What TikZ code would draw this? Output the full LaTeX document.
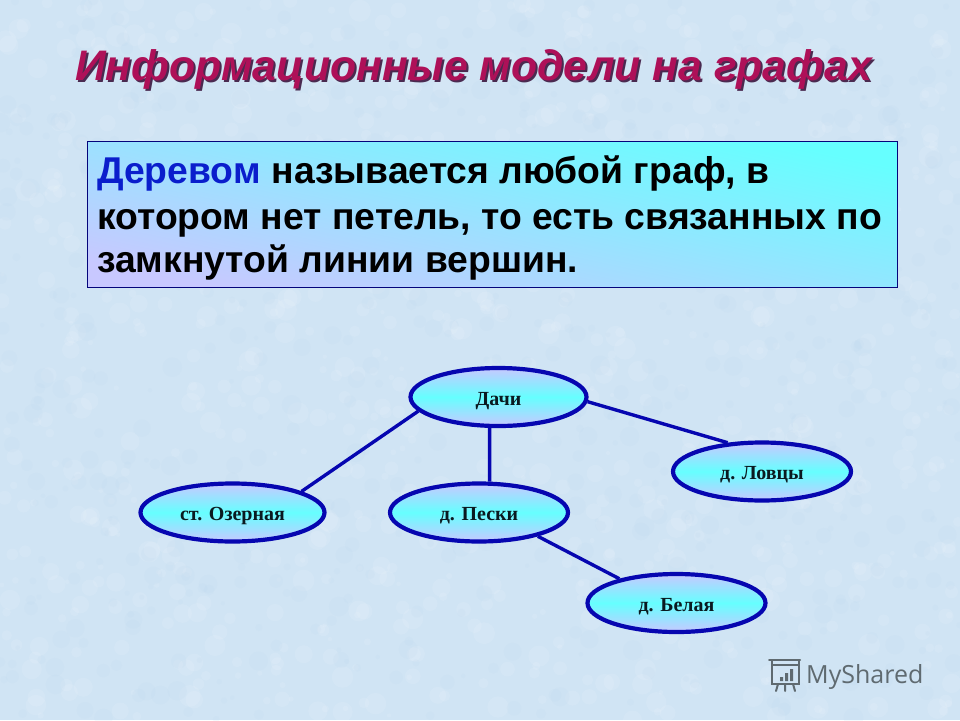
\documentclass[tikz,border=0pt]{standalone}
\usepackage{fontspec}
\setmainfont{Liberation Sans}
\newfontfamily\serifcyr{Liberation Serif}
\newfontfamily\markfont{Open Sans}
\usetikzlibrary{shapes.geometric}
\definecolor{bgblue}{HTML}{D0E4F4}
\definecolor{bgdark}{HTML}{B9D5EC}
\definecolor{edgeblue}{HTML}{0606B0}
\definecolor{peri}{HTML}{C8C8FF}
\definecolor{aqua}{HTML}{66FFFF}
\definecolor{titlecol}{HTML}{AE1058}
\definecolor{titleshadow}{HTML}{4A2A50}
\definecolor{defblue}{HTML}{0A1ECC}
\definecolor{markgrey}{HTML}{5F6A70}
\definecolor{nodetext}{HTML}{0A1A20}
\tikzset{
  vertex/.style={ellipse,draw=edgeblue,line width=4.2pt,minimum height=58pt,
    top color=peri,bottom color=peri,middle color=aqua,inner sep=0pt,
    text height=16pt,text depth=0pt,
    font=\serifcyr\bfseries\fontsize{20}{22}\selectfont,text=nodetext},
  link/.style={draw=edgeblue,line width=3.4pt},
  bodyline/.style={anchor=base west,inner sep=0pt,font=\bfseries\fontsize{37.3}{40}\selectfont,text=black},
  titletext/.style={anchor=base west,inner sep=0pt,font=\bfseries\itshape\fontsize{42.7}{46}\selectfont}
}
\newcommand{\shadowed}[1]{\rlap{\kern2pt\raisebox{-2pt}{\textcolor{titleshadow}{#1}}}\textcolor{titlecol}{#1}}
\begin{document}
\begin{tikzpicture}[x=1pt,y=-1pt]
\useasboundingbox (0,0) rectangle (960,720);
\fill[bgblue] (0,0) rectangle (960,720);
\pgfmathsetseed{42}
\begin{scope}
\clip (0,0) rectangle (960,720);
\foreach \i in {1,...,900}{
  \pgfmathsetmacro{\px}{rnd*960}
  \pgfmathsetmacro{\py}{rnd*720}
  \pgfmathsetmacro{\pr}{2+rnd*9}
  \fill[white,opacity=.10] (\px,\py) circle[radius=\pr];
}
\foreach \i in {1,...,700}{
  \pgfmathsetmacro{\px}{rnd*960}
  \pgfmathsetmacro{\py}{rnd*720}
  \pgfmathsetmacro{\pr}{2+rnd*8}
  \fill[bgdark,opacity=.12] (\px,\py) circle[radius=\pr];
}
\end{scope}

\node[titletext] (title) at (75,80) {\shadowed{Информационные модели на графах}};

\node[draw=edgeblue!70!black,line width=1pt,minimum width=810pt,minimum height=146pt,anchor=north west,
  inner sep=0pt,bottom color=peri,top color=aqua,shading angle=-12] (box) at (87,141) {};
\node[bodyline,text=defblue] (w1) at (97,183) {Деревом};
\node[bodyline] (w2) at (w1.base east) {\ называется любой граф, в};
\node[bodyline] (l2) at (97,229) {котором нет петель, то есть связанных по};
\node[bodyline] (l3) at (97,272) {замкнутой линии вершин.};

\node[vertex,minimum width=176pt] (dachi) at (498.5,397) {Дачи};
\node[vertex,minimum width=184pt] (oz) at (232.5,512.5) {ст. Озерная};
\node[vertex,minimum width=178pt] (peski) at (479,512.5) {д. Пески};
\node[vertex,minimum width=178pt] (lov) at (762,471.5) {д. Ловцы};
\node[vertex,minimum width=178pt] (bel) at (676.5,603) {д. Белая};

\draw[link] (dachi.190) -- (oz.17);
\draw[link] (dachi.254.5) -- (peski.71);
\draw[link] (dachi.-3) -- (lov.140);
\draw[link] (peski.-22) -- (bel.157);

\node[anchor=base west,inner sep=0pt,text=markgrey,font=\markfont\fontsize{25}{28}\selectfont] (mark) at (806,683) {MyShared};
\begin{scope}[draw=markgrey,line width=2pt,line cap=round]
\draw (772,665) rectangle (799,684);
\draw (769,660) -- (800,660);
\draw (772,660) -- (772,665) (799,660) -- (799,665);
\draw (778,684) -- (776,691) (785,684) -- (785,691) (793,684) -- (795,691);
\fill[markgrey] (780,677) rectangle (783,681) (785,673) rectangle (788,681) (790,669) rectangle (793,681);
\end{scope}
\end{tikzpicture}
\end{document}
